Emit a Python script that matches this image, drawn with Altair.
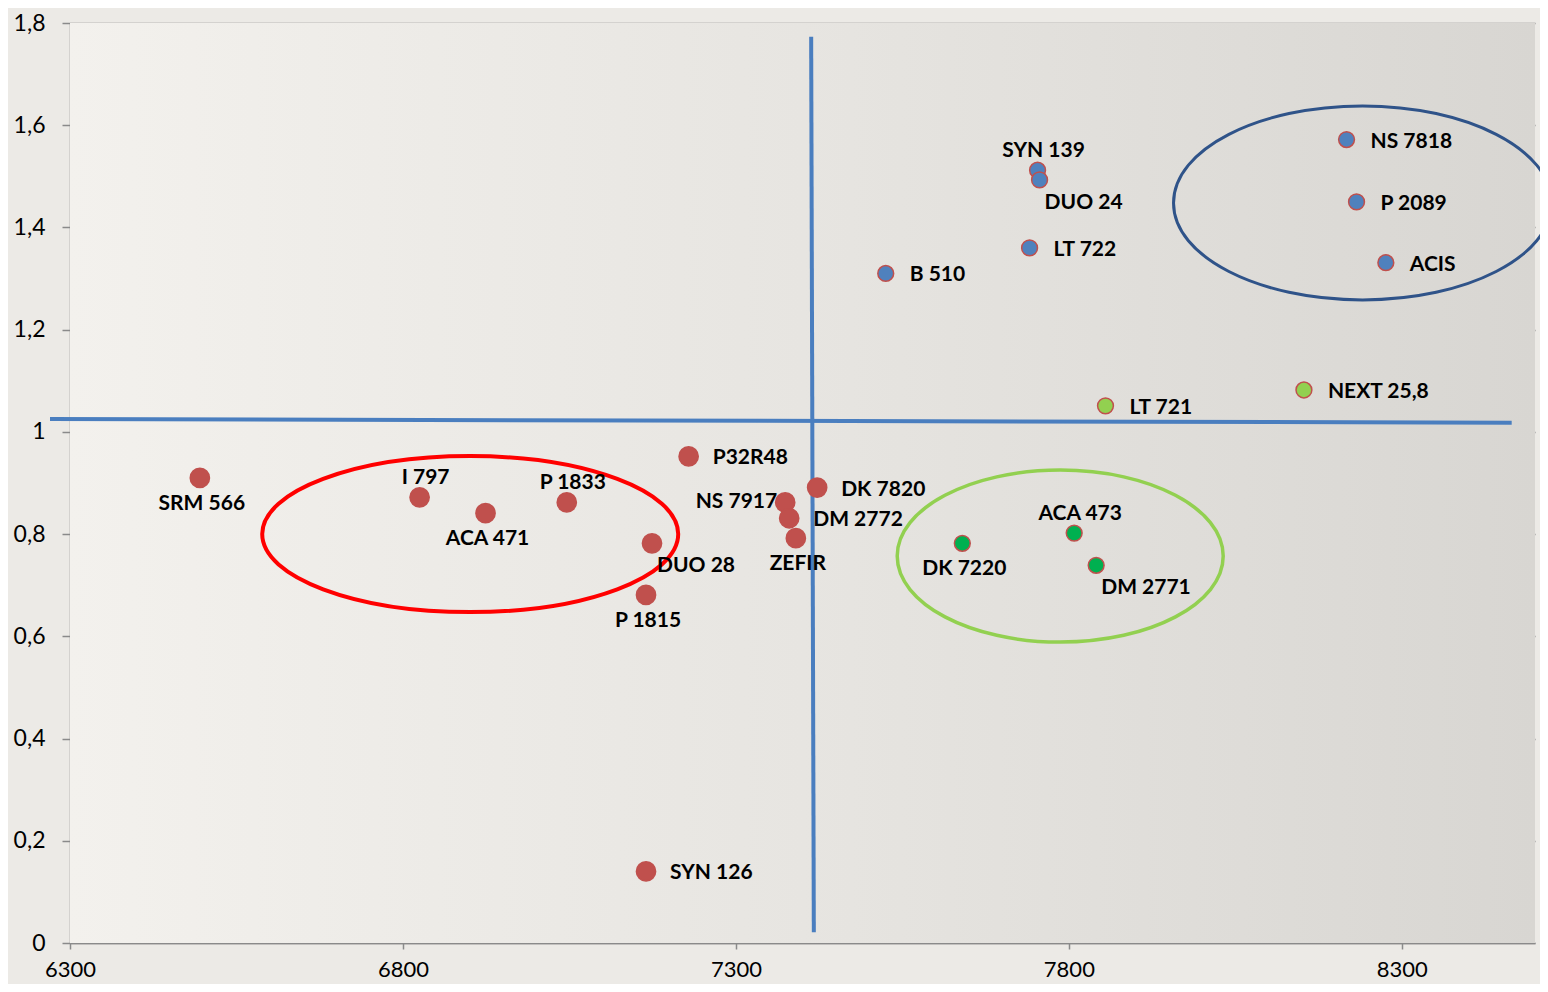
import altair as alt
import pandas as pd

# ---- data ----
names = ["SRM 566", "I 797", "ACA 471", "P 1833", "DUO 28", "P 1815", "P32R48",
         "NS 7917", "DM 2772", "ZEFIR", "DK 7820", "SYN 126",
         "B 510", "SYN 139", "DUO 24", "LT 722", "NS 7818", "P 2089", "ACIS",
         "LT 721", "NEXT 25,8",
         "DK 7220", "ACA 473", "DM 2771"]
xvals = [6495, 6825, 6924, 7046, 7174, 7165, 7229,
         7374, 7380, 7390, 7422, 7165,
         7525, 7753, 7756, 7741, 8217, 8232, 8276,
         7855, 8153,
         7640, 7808, 7841]
yvals = [0.91, 0.872, 0.841, 0.862, 0.782, 0.681, 0.952,
         0.862, 0.831, 0.792, 0.891, 0.14,
         1.31, 1.512, 1.493, 1.36, 1.572, 1.45, 1.331,
         1.051, 1.082,
         0.782, 0.802, 0.739]
groups = ["red"] * 12 + ["blue"] * 7 + ["lightgreen"] * 2 + ["green"] * 3
places = ["b", "a", "b", "a", "br", "b", "r",
          "l", "r", "b", "r", "r",
          "r", "a", "br", "r", "r", "r", "r",
          "r", "r",
          "b", "a", "br"]

# ellipse annotations (centre in data units)
ell_names = ["red", "blue", "green"]
ell_x = [6901, 8241, 7787]
ell_y = [0.80, 1.448, 0.757]

# quadrant divider lines (data units)
vline = {"x": 7413, "y": 1.773, "x2": 7417, "y2": 0.021}
hline = {"x": 6270, "y": 1.025, "x2": 8465, "y2": 1.018}

df = pd.DataFrame({"name": names, "x": xvals, "y": yvals, "group": groups, "place": places})
edf = pd.DataFrame({"name": ell_names, "x": ell_x, "y": ell_y})
ldf = pd.DataFrame([vline, hline])

W, H = 1465, 920
FONT = "Lato"

xscale = alt.Scale(domain=[6300, 8500], nice=False, zero=False)
yscale = alt.Scale(domain=[0, 1.8], nice=False)

X = alt.X("x:Q", scale=xscale,
          axis=alt.Axis(values=[6300, 6800, 7300, 7800, 8300], grid=False, title=None,
                        tickSize=6, tickColor="#8a8a8a", tickWidth=1.5,
                        domainColor="#8a8a8a", domainWidth=1.5,
                        labelFontSize=22, labelFont=FONT, labelColor="#000", labelPadding=10,
                        labelFlush=False, labelOverlap=False, format="d"))
Y = alt.Y("y:Q", scale=yscale,
          axis=alt.Axis(values=[0, 0.2, 0.4, 0.6, 0.8, 1.0, 1.2, 1.4, 1.6, 1.8], grid=True,
                        gridColor="#8a8a8a", gridWidth=1.5, title=None,
                        tickSize=8, tickColor="#8a8a8a", tickWidth=1.5,
                        domainColor="#8a8a8a", domainWidth=1.5,
                        labelFontSize=23, labelFont=FONT, labelColor="#000", labelPadding=17,
                        labelFlush=False, labelOverlap=False,
                        labelExpr="replace(format(datum.value, '.1~f'), '.', ',')"))

bg = alt.Chart(pd.DataFrame({"a": [0]})).mark_rect(
    fill=alt.LinearGradient(gradient="linear", x1=0, y1=0, x2=1, y2=0,
                            stops=[alt.GradientStop(color="#F3F1ED", offset=0),
                                   alt.GradientStop(color="#E7E5E1", offset=0.5),
                                   alt.GradientStop(color="#D8D6D2", offset=1)])
).encode(x=alt.value(0), x2=alt.value(W), y=alt.value(0), y2=alt.value(H))

base = alt.Chart(df)

points = base.mark_point(filled=True, opacity=1, strokeWidth=1.5).encode(
    x=X, y=Y,
    fill=alt.Fill("group:N", scale=alt.Scale(domain=["red", "blue", "lightgreen", "green"],
                                             range=["#C0504D", "#4F81BD", "#92D050", "#00B050"]),
                  legend=None),
    stroke=alt.value("#C0504D"),
    size=alt.condition(alt.datum.group == "red", alt.value(370), alt.value(250)),
)

def lbl(place, **kw):
    return base.transform_filter(alt.datum.place == place).mark_text(
        font=FONT, fontSize=21, fontWeight="bold", color="#000", baseline="middle", **kw
    ).encode(x="x:Q", y="y:Q", text="name:N")

labels = [
    lbl("r", align="left", dx=24, dy=2),
    lbl("l", align="right", dx=-8, dy=0),
    lbl("a", align="center", dx=6, dy=-19),
    lbl("b", align="center", dx=2, dy=26),
    lbl("br", align="left", dx=5, dy=23),
]

lines = alt.Chart(ldf).mark_rule(color="#4A7EBF", strokeWidth=4).encode(
    x="x:Q", y="y:Q", x2="x2:Q", y2="y2:Q")

def ellipse_path(a):
    c = 0.5523
    return (f"M -1 0 C -1 {-a*c:.4f} {-c} {-a:.4f} 0 {-a:.4f} "
            f"C {c} {-a:.4f} 1 {-a*c:.4f} 1 0 "
            f"C 1 {a*c:.4f} {c} {a:.4f} 0 {a:.4f} "
            f"C {-c} {a:.4f} -1 {a*c:.4f} -1 0 Z")

def ellipse(name, rx, ry, color, sw):
    return alt.Chart(edf).transform_filter(alt.datum.name == name).mark_point(
        shape=ellipse_path(ry / rx), filled=False, stroke=color, strokeWidth=sw,
        size=(2 * rx) ** 2, opacity=1
    ).encode(x="x:Q", y="y:Q")

ellipses = [
    ellipse("red", 208, 78, "#FF0000", 4),
    ellipse("blue", 189, 97, "#2F5389", 3),
    ellipse("green", 163, 86, "#92D050", 3.5),
]

chart = alt.layer(bg, *ellipses, lines, points, *labels).properties(
    width=W, height=H,
    autosize=alt.AutoSizeParams(type="none"),
    padding={"left": 62, "top": 15, "right": 5, "bottom": 41},
    background="#ECEAE6",
).configure_view(stroke=None)

chart.save("out.html", embed_options={"renderer": "svg", "actions": False})
